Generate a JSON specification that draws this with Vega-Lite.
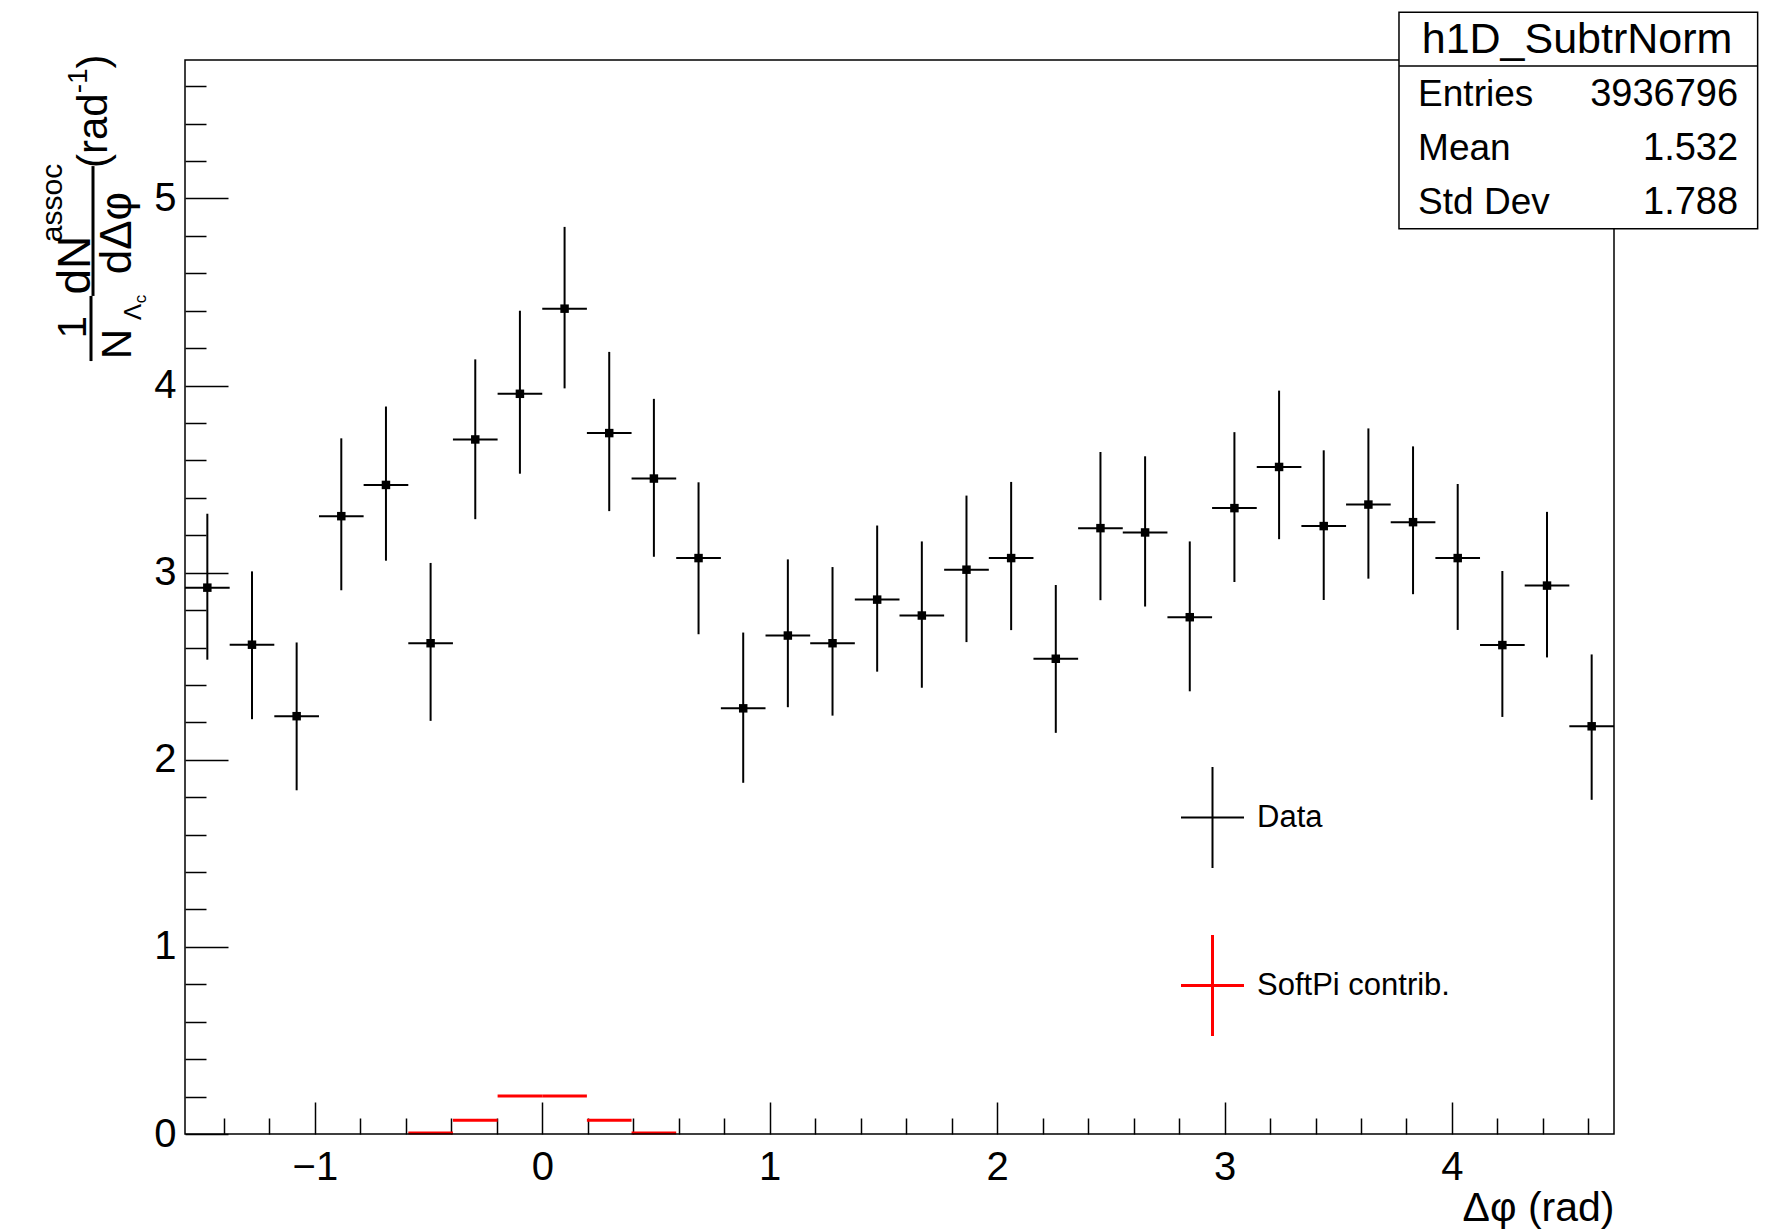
{
  "$schema": "https://vega.github.io/schema/vega-lite/v6.json",
  "width": 1429,
  "height": 1074,
  "autosize": {"type": "none"},
  "padding": {"left": 185, "top": 60, "right": 168, "bottom": 97},
  "background": "white",
  "config": {
    "view": {"stroke": null},
    "font": "Liberation Sans",
    "axis": {"domain": false, "grid": false, "labelFont": "Liberation Sans", "labelFontSize": 40, "labelColor": "black", "tickColor": "black", "tickWidth": 1.5},
    "legend": {"orient": "none", "legendX": 1012, "legendY": 742, "title": null, "symbolType": "M-1,0H1M0,-1.6V1.6", "symbolSize": 3969, "symbolStrokeWidth": 2, "symbolFillColor": "transparent", "labelFont": "Liberation Sans", "labelFontSize": 31, "labelColor": "black", "labelOffset": 29, "labelLimit": 600, "rowPadding": 57, "padding": 0}
  },
  "resolve": {"axis": {"x": "independent", "y": "independent"}},
  "datasets": {
    "hist": [
      {"x0": -1.5708, "x1": -1.3744, "xc": -1.4726, "y": 2.920, "ylo": 2.535, "yhi": 3.315, "series": "Data"},
      {"x0": -1.3744, "x1": -1.1781, "xc": -1.2763, "y": 2.615, "ylo": 2.217, "yhi": 3.007, "series": "Data"},
      {"x0": -1.1781, "x1": -0.9817, "xc": -1.0799, "y": 2.233, "ylo": 1.837, "yhi": 2.627, "series": "Data"},
      {"x0": -0.9817, "x1": -0.7854, "xc": -0.8836, "y": 3.302, "ylo": 2.906, "yhi": 3.718, "series": "Data"},
      {"x0": -0.7854, "x1": -0.5890, "xc": -0.6872, "y": 3.469, "ylo": 3.064, "yhi": 3.888, "series": "Data"},
      {"x0": -0.5890, "x1": -0.3927, "xc": -0.4909, "y": 2.623, "ylo": 2.208, "yhi": 3.052, "series": "Data"},
      {"x0": -0.3927, "x1": -0.1963, "xc": -0.2945, "y": 3.712, "ylo": 3.286, "yhi": 4.140, "series": "Data"},
      {"x0": -0.1963, "x1": 0.0, "xc": -0.0982, "y": 3.956, "ylo": 3.529, "yhi": 4.400, "series": "Data"},
      {"x0": 0.0, "x1": 0.1963, "xc": 0.0982, "y": 4.411, "ylo": 3.985, "yhi": 4.848, "series": "Data"},
      {"x0": 0.1963, "x1": 0.3927, "xc": 0.2945, "y": 3.746, "ylo": 3.329, "yhi": 4.180, "series": "Data"},
      {"x0": 0.3927, "x1": 0.5890, "xc": 0.4909, "y": 3.503, "ylo": 3.085, "yhi": 3.929, "series": "Data"},
      {"x0": 0.5890, "x1": 0.7854, "xc": 0.6872, "y": 3.078, "ylo": 2.671, "yhi": 3.483, "series": "Data"},
      {"x0": 0.7854, "x1": 0.9817, "xc": 0.8836, "y": 2.275, "ylo": 1.877, "yhi": 2.680, "series": "Data"},
      {"x0": 0.9817, "x1": 1.1781, "xc": 1.0799, "y": 2.664, "ylo": 2.281, "yhi": 3.071, "series": "Data"},
      {"x0": 1.1781, "x1": 1.3744, "xc": 1.2763, "y": 2.623, "ylo": 2.236, "yhi": 3.030, "series": "Data"},
      {"x0": 1.3744, "x1": 1.5708, "xc": 1.4726, "y": 2.856, "ylo": 2.471, "yhi": 3.252, "series": "Data"},
      {"x0": 1.5708, "x1": 1.7671, "xc": 1.6690, "y": 2.771, "ylo": 2.385, "yhi": 3.167, "series": "Data"},
      {"x0": 1.7671, "x1": 1.9635, "xc": 1.8653, "y": 3.016, "ylo": 2.629, "yhi": 3.412, "series": "Data"},
      {"x0": 1.9635, "x1": 2.1598, "xc": 2.0617, "y": 3.078, "ylo": 2.693, "yhi": 3.485, "series": "Data"},
      {"x0": 2.1598, "x1": 2.3562, "xc": 2.2580, "y": 2.540, "ylo": 2.144, "yhi": 2.934, "series": "Data"},
      {"x0": 2.3562, "x1": 2.5525, "xc": 2.4544, "y": 3.238, "ylo": 2.853, "yhi": 3.645, "series": "Data"},
      {"x0": 2.5525, "x1": 2.7489, "xc": 2.6507, "y": 3.215, "ylo": 2.819, "yhi": 3.622, "series": "Data"},
      {"x0": 2.7489, "x1": 2.9452, "xc": 2.8471, "y": 2.762, "ylo": 2.366, "yhi": 3.167, "series": "Data"},
      {"x0": 2.9452, "x1": 3.1416, "xc": 3.0434, "y": 3.345, "ylo": 2.950, "yhi": 3.751, "series": "Data"},
      {"x0": 3.1416, "x1": 3.3379, "xc": 3.2398, "y": 3.565, "ylo": 3.179, "yhi": 3.973, "series": "Data"},
      {"x0": 3.3379, "x1": 3.5343, "xc": 3.4361, "y": 3.249, "ylo": 2.854, "yhi": 3.654, "series": "Data"},
      {"x0": 3.5343, "x1": 3.7306, "xc": 3.6325, "y": 3.364, "ylo": 2.968, "yhi": 3.771, "series": "Data"},
      {"x0": 3.7306, "x1": 3.9270, "xc": 3.8288, "y": 3.270, "ylo": 2.885, "yhi": 3.675, "series": "Data"},
      {"x0": 3.9270, "x1": 4.1233, "xc": 4.0252, "y": 3.078, "ylo": 2.694, "yhi": 3.474, "series": "Data"},
      {"x0": 4.1233, "x1": 4.3197, "xc": 4.2215, "y": 2.613, "ylo": 2.229, "yhi": 3.009, "series": "Data"},
      {"x0": 4.3197, "x1": 4.5160, "xc": 4.4179, "y": 2.931, "ylo": 2.547, "yhi": 3.325, "series": "Data"},
      {"x0": 4.5160, "x1": 4.7124, "xc": 4.6142, "y": 2.179, "ylo": 1.786, "yhi": 2.563, "series": "Data"}
    ],
    "softpi": [
      {"x0": -0.5890, "x1": -0.3927, "y": 0.005, "series": "SoftPi contrib."},
      {"x0": -0.3927, "x1": -0.1963, "y": 0.073, "series": "SoftPi contrib."},
      {"x0": -0.1963, "x1": 0.0, "y": 0.203, "series": "SoftPi contrib."},
      {"x0": 0.0, "x1": 0.1963, "y": 0.203, "series": "SoftPi contrib."},
      {"x0": 0.1963, "x1": 0.3927, "y": 0.073, "series": "SoftPi contrib."},
      {"x0": 0.3927, "x1": 0.5890, "y": 0.005, "series": "SoftPi contrib."}
    ]
  },
  "layer": [
    {
      "data": {"name": "hist"},
      "mark": {"type": "rule", "strokeWidth": 2},
      "encoding": {
        "x": {"field": "x0", "type": "quantitative",
          "scale": {"domain": [-1.5708, 4.7124], "nice": false, "zero": false},
          "axis": {"orient": "bottom", "title": "Δφ (rad)", "titleFont": "Liberation Sans", "titleFontSize": 41, "titleFontWeight": "normal", "titleColor": "black", "titleAnchor": "end", "titleAlign": "right", "titleBaseline": "alphabetic", "titleX": 1429, "titleY": 86,
            "values": [-1, 0, 1, 2, 3, 4], "format": "d",
            "tickSize": -32, "labelPadding": 45, "labelFlush": false, "labelOverlap": false}},
        "x2": {"field": "x1"},
        "y": {"field": "y", "type": "quantitative",
          "scale": {"domain": [0, 5.74], "nice": false, "zero": false},
          "axis": {"orient": "left", "title": null,
            "values": [0, 1, 2, 3, 4, 5], "format": "d",
            "tickSize": -43, "labelPadding": 52, "labelFlush": false, "labelOverlap": false}},
        "color": {"field": "series", "type": "nominal",
          "scale": {"domain": ["Data", "SoftPi contrib."], "range": ["black", "#ff0000"]},
          "legend": {"encode": {"symbols": {"update": {"strokeWidth": {"signal": "datum.value === 'SoftPi contrib.' ? 3 : 2"}}}}}}
      }
    },
    {
      "data": {"name": "hist"},
      "mark": {"type": "rule", "strokeWidth": 2},
      "encoding": {
        "x": {"field": "xc", "type": "quantitative",
          "axis": {"orient": "bottom", "title": null, "labels": false,
            "values": [-1.4,-1.2,-0.8,-0.6,-0.4,-0.2,0.2,0.4,0.6,0.8,1.2,1.4,1.6,1.8,2.2,2.4,2.6,2.8,3.2,3.4,3.6,3.8,4.2,4.4,4.6],
            "tickSize": -16}},
        "y": {"field": "ylo", "type": "quantitative",
          "axis": {"orient": "left", "title": null, "labels": false,
            "values": [0.2,0.4,0.6,0.8,1.2,1.4,1.6,1.8,2.2,2.4,2.6,2.8,3.2,3.4,3.6,3.8,4.2,4.4,4.6,4.8,5.2,5.4,5.6],
            "tickSize": -21}},
        "y2": {"field": "yhi"},
        "color": {"field": "series", "type": "nominal"}
      }
    },
    {
      "data": {"name": "hist"},
      "mark": {"type": "point", "shape": "square", "filled": true, "size": 72, "opacity": 1},
      "encoding": {
        "x": {"field": "xc", "type": "quantitative", "axis": null},
        "y": {"field": "y", "type": "quantitative", "axis": null},
        "color": {"value": "black"}
      }
    },
    {
      "data": {"name": "softpi"},
      "mark": {"type": "rule", "strokeWidth": 3},
      "encoding": {
        "x": {"field": "x0", "type": "quantitative", "axis": null},
        "x2": {"field": "x1"},
        "y": {"field": "y", "type": "quantitative", "axis": null},
        "color": {"field": "series", "type": "nominal"}
      }
    },
    {
      "data": {"values": [{}]},
      "mark": {"type": "rect", "fill": null, "fillOpacity": 0, "stroke": "black", "strokeWidth": 1.5},
      "encoding": {
        "x": {"datum": -1.5708, "type": "quantitative", "axis": null},
        "x2": {"datum": 4.7124},
        "y": {"datum": 0, "type": "quantitative", "axis": null},
        "y2": {"datum": 5.74}
      }
    },
    {
      "data": {"values": [{}]},
      "mark": {"type": "rect", "fill": "white", "stroke": "black", "strokeWidth": 1.5},
      "encoding": {
        "x": {"datum": 3.767, "type": "quantitative", "axis": null},
        "x2": {"datum": 5.344},
        "y": {"datum": 5.995, "type": "quantitative", "axis": null},
        "y2": {"datum": 4.838}
      }
    },
    {
      "data": {"values": [{}]},
      "mark": {"type": "rule", "stroke": "black", "strokeWidth": 1.5},
      "encoding": {
        "x": {"datum": 3.767, "type": "quantitative", "axis": null},
        "x2": {"datum": 5.344},
        "y": {"datum": 5.708, "type": "quantitative", "axis": null}
      }
    },
    {
      "data": {"values": [{}]},
      "mark": {"type": "text", "text": "h1D_SubtrNorm", "font": "Liberation Sans", "fontSize": 43, "align": "center", "baseline": "alphabetic", "color": "black"},
      "encoding": {
        "x": {"datum": 4.550, "type": "quantitative", "axis": null},
        "y": {"datum": 5.780, "type": "quantitative", "axis": null}
      }
    },
    {
      "data": {"values": [{}]},
      "mark": {"type": "text", "text": ["Entries", "Mean", "Std Dev"], "lineHeight": 54, "font": "Liberation Sans", "fontSize": 37, "align": "left", "baseline": "alphabetic", "color": "black"},
      "encoding": {
        "x": {"datum": 3.851, "type": "quantitative", "axis": null},
        "y": {"datum": 5.495, "type": "quantitative", "axis": null}
      }
    },
    {
      "data": {"values": [{}]},
      "mark": {"type": "text", "text": ["3936796", "1.532", "1.788"], "lineHeight": 54, "font": "Liberation Sans", "fontSize": 38, "align": "right", "baseline": "alphabetic", "color": "black"},
      "encoding": {
        "x": {"datum": 5.258, "type": "quantitative", "axis": null},
        "y": {"datum": 5.495, "type": "quantitative", "axis": null}
      }
    },
    {
      "data": {"values": [{}]},
      "mark": {"type": "text", "text": "1", "angle": 270, "font": "Liberation Sans", "fontSize": 40, "align": "center", "baseline": "alphabetic", "color": "black"},
      "encoding": {
        "x": {"datum": -2.0061, "type": "quantitative", "axis": null},
        "y": {"datum": 4.313, "type": "quantitative", "axis": null}
      }
    },
    {
      "data": {"values": [{}]},
      "mark": {"type": "rule", "stroke": "black", "strokeWidth": 3},
      "encoding": {
        "x": {"datum": -1.9841, "type": "quantitative", "axis": null},
        "y": {"datum": 4.479, "type": "quantitative", "axis": null},
        "y2": {"datum": 4.131}
      }
    },
    {
      "data": {"values": [{}]},
      "mark": {"type": "text", "text": "N", "angle": 270, "font": "Liberation Sans", "fontSize": 42, "align": "center", "baseline": "alphabetic", "color": "black"},
      "encoding": {
        "x": {"datum": -1.8082, "type": "quantitative", "axis": null},
        "y": {"datum": 4.222, "type": "quantitative", "axis": null}
      }
    },
    {
      "data": {"values": [{}]},
      "mark": {"type": "text", "text": "Λ", "angle": 270, "font": "Liberation Sans", "fontSize": 24, "align": "center", "baseline": "alphabetic", "color": "black"},
      "encoding": {
        "x": {"datum": -1.7643, "type": "quantitative", "axis": null},
        "y": {"datum": 4.393, "type": "quantitative", "axis": null}
      }
    },
    {
      "data": {"values": [{}]},
      "mark": {"type": "text", "text": "c", "angle": 270, "font": "Liberation Sans", "fontSize": 17, "align": "center", "baseline": "alphabetic", "color": "black"},
      "encoding": {
        "x": {"datum": -1.7423, "type": "quantitative", "axis": null},
        "y": {"datum": 4.463, "type": "quantitative", "axis": null}
      }
    },
    {
      "data": {"values": [{}]},
      "mark": {"type": "rule", "stroke": "black", "strokeWidth": 3},
      "encoding": {
        "x": {"datum": -1.9753, "type": "quantitative", "axis": null},
        "y": {"datum": 5.173, "type": "quantitative", "axis": null},
        "y2": {"datum": 4.479}
      }
    },
    {
      "data": {"values": [{}]},
      "mark": {"type": "text", "text": "dN", "angle": 270, "font": "Liberation Sans", "fontSize": 46, "align": "center", "baseline": "alphabetic", "color": "black"},
      "encoding": {
        "x": {"datum": -1.9885, "type": "quantitative", "axis": null},
        "y": {"datum": 4.644, "type": "quantitative", "axis": null}
      }
    },
    {
      "data": {"values": [{}]},
      "mark": {"type": "text", "text": "assoc", "angle": 270, "font": "Liberation Sans", "fontSize": 30, "align": "center", "baseline": "alphabetic", "color": "black"},
      "encoding": {
        "x": {"datum": -2.1116, "type": "quantitative", "axis": null},
        "y": {"datum": 4.976, "type": "quantitative", "axis": null}
      }
    },
    {
      "data": {"values": [{}]},
      "mark": {"type": "text", "text": "dΔφ", "angle": 270, "font": "Liberation Sans", "fontSize": 44, "align": "center", "baseline": "alphabetic", "color": "black"},
      "encoding": {
        "x": {"datum": -1.8082, "type": "quantitative", "axis": null},
        "y": {"datum": 4.815, "type": "quantitative", "axis": null}
      }
    },
    {
      "data": {"values": [{}]},
      "mark": {"type": "text", "text": "(rad", "angle": 270, "font": "Liberation Sans", "fontSize": 42, "align": "left", "baseline": "alphabetic", "color": "black"},
      "encoding": {
        "x": {"datum": -1.9138, "type": "quantitative", "axis": null},
        "y": {"datum": 5.163, "type": "quantitative", "axis": null}
      }
    },
    {
      "data": {"values": [{}]},
      "mark": {"type": "text", "text": "-1", "angle": 270, "font": "Liberation Sans", "fontSize": 28, "align": "left", "baseline": "alphabetic", "color": "black"},
      "encoding": {
        "x": {"datum": -2.0017, "type": "quantitative", "axis": null},
        "y": {"datum": 5.562, "type": "quantitative", "axis": null}
      }
    },
    {
      "data": {"values": [{}]},
      "mark": {"type": "text", "text": ")", "angle": 270, "font": "Liberation Sans", "fontSize": 42, "align": "left", "baseline": "alphabetic", "color": "black"},
      "encoding": {
        "x": {"datum": -1.9138, "type": "quantitative", "axis": null},
        "y": {"datum": 5.695, "type": "quantitative", "axis": null}
      }
    }
  ]
}
